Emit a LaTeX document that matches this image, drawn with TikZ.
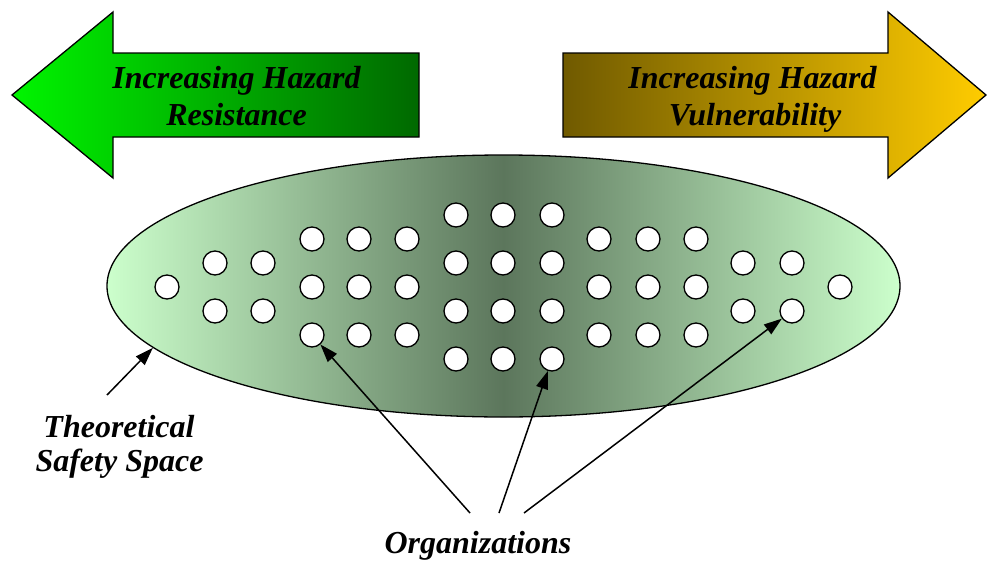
\documentclass[tikz,border=0pt]{standalone}
\usepackage{fontspec}
\setmainfont{Liberation Serif}
\usetikzlibrary{shapes.geometric,arrows.meta}
\definecolor{resistL}{RGB}{0,245,0}
\definecolor{resistR}{RGB}{0,105,0}
\definecolor{vulnL}{RGB}{112,90,0}
\definecolor{vulnR}{RGB}{255,204,0}
\definecolor{mint}{RGB}{204,255,204}
\definecolor{sage}{RGB}{92,118,92}
\begin{document}
\begin{tikzpicture}[x=1pt,y=-1pt,
  outline/.style={draw=black,line width=1.3pt,line join=miter},
  caption/.style={font=\fontsize{32}{37}\selectfont\bfseries\itshape,inner sep=0pt,anchor=base},
  org/.style={circle,draw=black,line width=1.3pt,fill=white,minimum size=24pt,inner sep=0pt},
  pointer/.style={line width=1.5pt,-{Triangle[length=18pt,width=12pt]}}]
\useasboundingbox (0,0) rectangle (987,562);

% block arrows
\draw[outline,left color=resistL,right color=resistR]
  (12,95) -- (113,12) -- (113,53) -- (419,53) -- (419,137) -- (113,137) -- (113,178) -- cycle;
\draw[outline,left color=vulnL,right color=vulnR]
  (563,53) -- (888,53) -- (888,12) -- (986,95) -- (888,178) -- (888,137) -- (563,137) -- cycle;

\node[caption] (res1) at (236.5,88) {Increasing Hazard};
\node[caption] (res2) at (236.5,125) {Resistance};
\node[caption] (vul1) at (752.5,88) {Increasing Hazard};
\node[caption] (vul2) at (755,125) {Vulnerability};

% safety space: light rim, dark centre
\node[ellipse,draw=black,line width=1.3pt,minimum width=793pt,minimum height=262pt,inner sep=0pt,
  left color=mint,right color=mint,middle color=sage] (space) at (503.5,286) {};

% organizations
\foreach \cx/\ys [count=\i] in {167/{287},215/{263,311},263/{263,311},
  312/{239,287,335},359/{239,287,335},407/{239,287,335},
  456/{215,263,311,359},503/{215,263,311,359},552/{215,263,311,359},
  599/{239,287,335},648/{239,287,335},696/{239,287,335},
  743/{263,311},792/{263,311},840/{287}}
  \foreach \cy [count=\j] in \ys
    \node[org] (c\i-\j) at (\cx,\cy) {};

% labels and pointers
\node[caption] (tss1) at (119,437) {Theoretical};
\node[caption] (tss2) at (119.5,471) {Safety Space};
\node[caption] (orgs) at (478,553) {Organizations};

\coordinate (tssfoot) at (107,395);
\coordinate (o1) at (470,513);
\coordinate (o2) at (499,513);
\coordinate (o3) at (524,513);

\draw[pointer] (tssfoot) -- (space.190);
\draw[pointer] (o1) -- (c4-3);
\draw[pointer] (o2) -- (c9-4);
\draw[pointer] (o3) -- (c14-2);
\end{tikzpicture}
\end{document}
